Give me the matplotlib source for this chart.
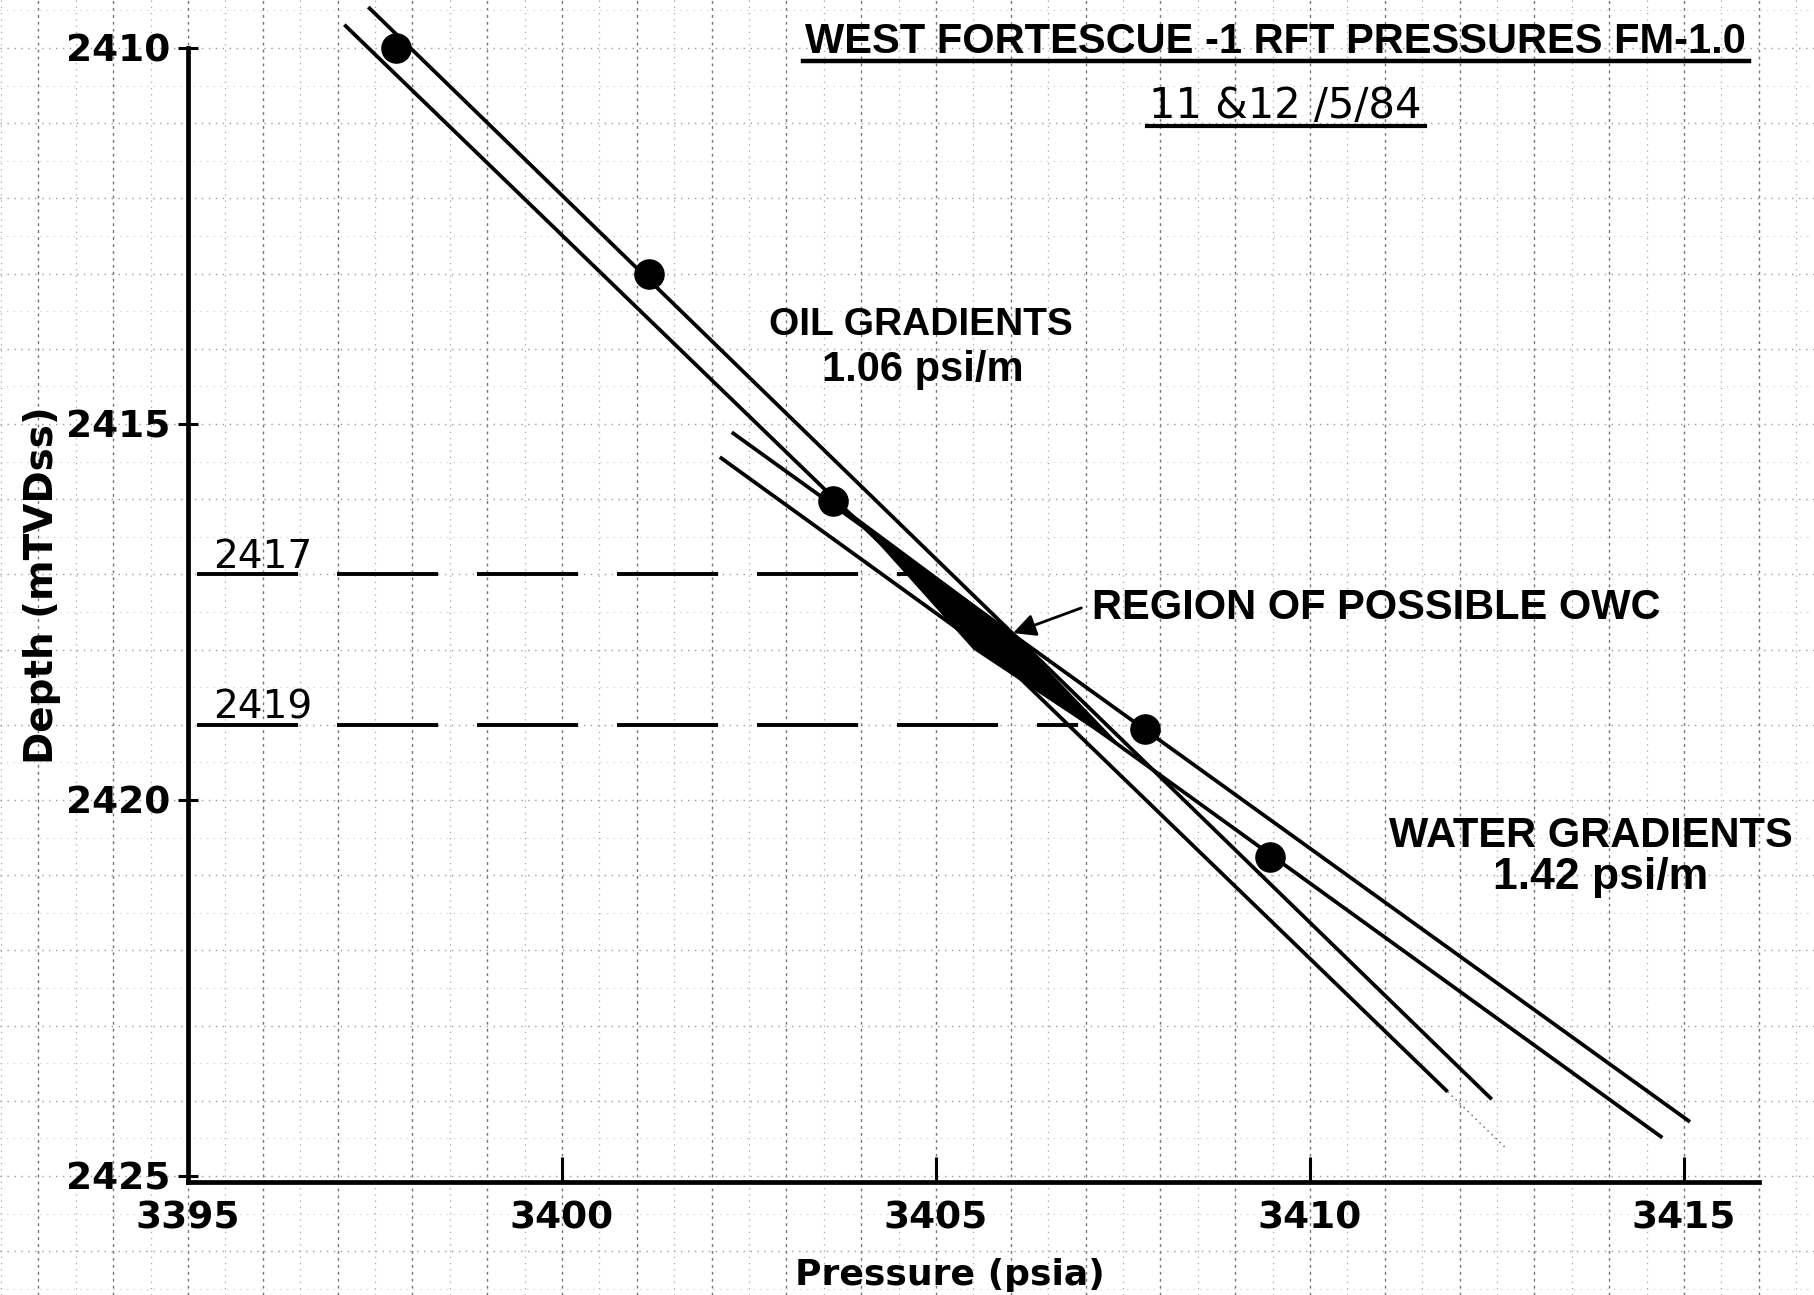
"""
West Fortescue-1 RFT pressures, FM-1.0: depth vs pressure with oil and
water gradient lines and the bracketed oil-water contact.
"""

import numpy as np
import matplotlib
matplotlib.use("Agg")
import matplotlib.pyplot as plt
from matplotlib.lines import Line2D

# ── RFT pressure points ──────────────────────────────────────────────────
pressure = [3397.78, 3401.16, 3403.62, 3407.79, 3409.47]
depth = [2410.0, 2413.01, 2416.02, 2419.06, 2420.76]

# ── gradient lines (ends) ────────────────────────────────────────────────
oil_top_p = [3397.41, 3397.09]
oil_top_d = [2409.455, 2409.69]
oil_bot_p = [3412.43, 3411.84]
oil_bot_d = [2423.98, 2423.88]
oil_faint_end_d = 2424.63

water_top_p = [3402.27, 3402.11]
water_top_d = [2415.11, 2415.44]
water_bot_p = [3415.08, 3414.71]
water_bot_d = [2424.28, 2424.49]

# ── region of possible OWC ───────────────────────────────────────────────
owc_p = [3403.85, 3405.99, 3407.53, 3405.50]
owc_d = [2416.17, 2417.75, 2419.34, 2418.00]
owc_depths = [2417, 2419]
owc_line_end = [3404.7, 3406.9]
arrow_head = (3406.03, 2417.78)

xticks = [3395, 3400, 3405, 3410, 3415]
yticks = [2410, 2415, 2420, 2425]

# ── page layout (pixels on the 1815x1295 sheet) ──────────────────────────
W, H, DPI = 1815, 1295, 100
X0_PX, PX_PER_PSI = 188, 74.8     # 3395 psia sits at x=188
Y0_PX, PX_PER_M = 48, 75.2        # 2410 m sits at y=48
X_MIN, X_MAX = 3395.0, 3416.0
Y_BOT = 2425.08


def p_of_px(px):
    return X_MIN + (px - X0_PX) / PX_PER_PSI


def d_of_px(py):
    return 2410.0 + (py - Y0_PX) / PX_PER_M


fig = plt.figure(figsize=(W / DPI, H / DPI), dpi=DPI)
fig.patch.set_facecolor("white")

BOLD = "DejaVu Sans"
HELV = "Liberation Sans"

# graph-paper grid behind everything
bg = fig.add_axes([0, 0, 1, 1], zorder=0)
bg.set_xlim(p_of_px(0), p_of_px(W))
bg.set_ylim(d_of_px(H), d_of_px(0))
bg.set_xticks(np.arange(3393, 3417, 1.0))
bg.set_xticks(np.arange(3392.5, 3417, 1.0), minor=True)
bg.set_yticks(np.arange(2410, 2427, 1.0))
bg.set_yticks(np.arange(2409.5, 2427, 1.0), minor=True)
bg.grid(which="major", axis="x", color="0.45", linestyle=(0, (2, 3)), linewidth=1.0)
bg.grid(which="minor", axis="x", color="0.65", linestyle=(0, (1, 4)), linewidth=0.9)
bg.grid(which="major", axis="y", color="0.6", linestyle=(0, (1, 4)), linewidth=1.0)
bg.grid(which="minor", axis="y", color="0.78", linestyle=(0, (1, 5)), linewidth=0.8)
bg.tick_params(which="both", length=0, labelbottom=False, labelleft=False)
for s in bg.spines.values():
    s.set_visible(False)

# main axes, placed so the data maps onto the same pixels as the grid
left = X0_PX / W
right = (X0_PX + (X_MAX - X_MIN) * PX_PER_PSI) / W
bottom_px = Y0_PX + (Y_BOT - 2410.0) * PX_PER_M
ax = fig.add_axes([left, 1 - bottom_px / H, right - left, bottom_px / H], zorder=1)
ax.patch.set_alpha(0)
ax.set_xlim(X_MIN, X_MAX)
ax.set_ylim(Y_BOT, d_of_px(0))

ax.spines["top"].set_visible(False)
ax.spines["right"].set_visible(False)
ax.spines["left"].set_linewidth(3.4)
ax.spines["bottom"].set_linewidth(3.4)
ax.spines["left"].set_bounds(2410, Y_BOT)

ax.set_xticks(xticks)
ax.set_yticks(yticks)
ax.tick_params(axis="x", direction="in", length=18, width=2.2, pad=13)
ax.tick_params(axis="y", direction="inout", length=15, width=2.2, pad=5)
for lab in ax.get_xticklabels() + ax.get_yticklabels():
    lab.set_fontfamily(BOLD)
    lab.set_fontweight("bold")
    lab.set_fontsize(27)

# gradient lines
for i in range(2):
    ax.plot([oil_top_p[i], oil_bot_p[i]], [oil_top_d[i], oil_bot_d[i]],
            color="black", linewidth=2.7, solid_capstyle="butt", zorder=3)
    ax.plot([water_top_p[i], water_bot_p[i]], [water_top_d[i], water_bot_d[i]],
            color="black", linewidth=2.7, solid_capstyle="butt", zorder=3)

# faint dotted continuation of the lower oil line
slope = (oil_bot_p[1] - oil_top_p[1]) / (oil_bot_d[1] - oil_top_d[1])
faint_p = oil_bot_p[1] + slope * (oil_faint_end_d - oil_bot_d[1])
ax.plot([oil_bot_p[1], faint_p], [oil_bot_d[1], oil_faint_end_d],
        color="0.35", linewidth=1.0, linestyle=(0, (1, 3)), zorder=3)

# shaded OWC region
ax.fill(owc_p, owc_d, color="black", linewidth=0, zorder=4)

# horizontal dashed limits at 2417 and 2419
for dd, pend in zip(owc_depths, owc_line_end):
    ax.plot([X_MIN + 0.12, pend], [dd, dd], color="black", linewidth=2.8,
            linestyle=(0, (26, 10)), zorder=2)
    ax.text(p_of_px(213), dd - 0.09, str(dd), fontsize=28, family=BOLD,
            ha="left", va="baseline", zorder=5)

# RFT points
ax.plot(pressure, depth, "o", color="black", markersize=21, zorder=6,
        clip_on=False)

# annotations
ax.text(p_of_px(921), d_of_px(335), "OIL GRADIENTS", family=HELV,
        fontweight="bold", fontsize=28, ha="center", va="baseline")
ax.text(p_of_px(923), d_of_px(381), "1.06 psi/m", family=HELV,
        fontweight="bold", fontsize=30, ha="center", va="baseline")
ax.text(p_of_px(1591), d_of_px(847), "WATER GRADIENTS", family=HELV,
        fontweight="bold", fontsize=30, ha="center", va="baseline")
ax.text(p_of_px(1601), d_of_px(889), "1.42 psi/m", family=HELV,
        fontweight="bold", fontsize=32, ha="center", va="baseline")
ax.annotate("REGION OF POSSIBLE OWC", xy=arrow_head,
            xytext=(p_of_px(1092), d_of_px(619)), family=HELV,
            fontweight="bold", fontsize=30, ha="left", va="baseline",
            arrowprops=dict(arrowstyle="-|>", color="black", lw=2.0,
                            mutation_scale=34, relpos=(0, 0.6),
                            shrinkA=6, shrinkB=0))

title = ax.text(p_of_px(1275), d_of_px(53),
                "WEST FORTESCUE -1 RFT PRESSURES FM-1.0", family=HELV,
                fontweight="bold", fontsize=30, ha="center", va="baseline",
                clip_on=False)
date = ax.text(p_of_px(1285), d_of_px(118), "11 &12 /5/84", family=BOLD,
               fontsize=30, ha="center", va="baseline", clip_on=False)

fig.text(950 / W, 1 - 1275 / H, "Pressure (psia)", family=BOLD,
         fontweight="bold", fontsize=26, ha="center", va="center")
fig.text(42 / W, 1 - 585 / H, "Depth (mTVDss)", family=BOLD,
         fontweight="bold", fontsize=28, rotation=90, ha="center",
         va="center")

# underline the title and the date
fig.canvas.draw()
inv = fig.transFigure.inverted()
for t, lw in ((title, 3.2), (date, 3.0)):
    bb = t.get_window_extent()
    (x0, y0), (x1, _) = inv.transform([[bb.x0 - 2, bb.y0 + 1], [bb.x1 + 4, bb.y0]])
    fig.add_artist(Line2D([x0, x1], [y0, y0], color="black", linewidth=lw,
                          transform=fig.transFigure))

fig.savefig("out.png", dpi=DPI, facecolor="white")
